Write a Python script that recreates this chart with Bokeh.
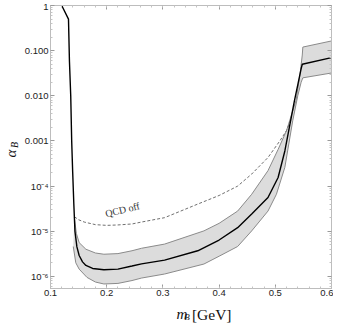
import numpy as np
from bokeh.plotting import figure
from bokeh.layouts import row, column
from bokeh.models import (Range1d, LogAxis, LinearAxis, FixedTicker,
                          CustomJSTickFormatter, Label)
from bokeh.embed import file_html
from bokeh.resources import INLINE

# ---- data ----
central_m = [0.120, 0.132, 0.1337, 0.136, 0.1377, 0.1395, 0.1415, 0.1435, 0.147, 0.151,
             0.157, 0.163, 0.175, 0.195, 0.220, 0.245, 0.262, 0.303, 0.362, 0.400,
             0.433, 0.458, 0.487, 0.505, 0.517, 0.525, 0.534, 0.541, 0.546, 0.548, 0.600]
central_alpha = [1.0, 0.50, 0.059, 0.010, 0.001, 2.0e-4, 4.0e-5, 1.0e-5, 4.5e-6, 2.9e-6,
                 2.1e-6, 1.75e-6, 1.5e-6, 1.4e-6, 1.45e-6, 1.7e-6, 1.9e-6, 2.3e-6, 3.7e-6, 6.4e-6,
                 1.2e-5, 2.4e-5, 5.6e-5, 1.55e-4, 6.0e-4, 2.0e-3, 7.7e-3, 0.02, 0.04, 0.05, 0.07]

upper_m = [0.1425, 0.146, 0.151, 0.163, 0.180, 0.195, 0.220, 0.245, 0.262, 0.303,
           0.373, 0.400, 0.433, 0.458, 0.487, 0.505, 0.520, 0.537, 0.544, 0.548, 0.549, 0.600]
upper_alpha = [2.0e-5, 9.0e-6, 5.6e-6, 4.0e-6, 3.3e-6, 3.1e-6, 3.2e-6, 3.7e-6, 4.2e-6, 5.2e-6,
               1.02e-5, 1.5e-5, 2.8e-5, 6.6e-5, 2.2e-4, 6.5e-4, 1.7e-3, 8.0e-3, 0.03, 0.08, 0.12, 0.164]

lower_m = [0.1405, 0.145, 0.151, 0.165, 0.180, 0.195, 0.220, 0.245, 0.262, 0.303,
           0.373, 0.400, 0.433, 0.458, 0.487, 0.502, 0.517, 0.531, 0.540, 0.546, 0.549, 0.600]
lower_alpha = [4.6e-6, 2.0e-6, 1.45e-6, 9.5e-7, 7.5e-7, 6.8e-7, 7.0e-7, 8.1e-7, 9.2e-7, 1.13e-6,
               1.88e-6, 2.8e-6, 4.6e-6, 1.02e-5, 2.8e-5, 6.6e-5, 2.6e-4, 2.8e-3, 1.0e-2, 0.02, 0.025, 0.032]

qcdoff_m = [0.1425, 0.150, 0.160, 0.180, 0.200, 0.220, 0.245, 0.262, 0.303, 0.362,
            0.400, 0.433, 0.458, 0.487, 0.508, 0.520, 0.528]
qcdoff_alpha = [2.1e-5, 1.8e-5, 1.6e-5, 1.4e-5, 1.35e-5, 1.38e-5, 1.45e-5, 1.6e-5, 2.0e-5, 4.0e-5,
                6.2e-5, 1.0e-4, 1.85e-4, 4.3e-4, 1.0e-3, 1.7e-3, 3.0e-3]

y_ticks = [1e-6, 1e-5, 1e-4, 1e-3, 1e-2, 1e-1, 1.0]
y_tick_labels = ["10\u207b\u2076", "10\u207b\u2075", "10\u207b\u2074", "0.001", "0.010", "0.100", "1"]
x_ticks = [0.1, 0.2, 0.3, 0.4, 0.5, 0.6]
x_tick_labels = ["0.1", "0.2", "0.3", "0.4", "0.5", "0.6"]

annotation_text = "QCD off"
x_label_parts = ["m", "B", "[GeV]"]
y_label_parts = ["\u03b1", "B"]

serif = "Liberation Serif"

# ---- layout sizes ----
LEFT_W = 21          # strip holding the y-axis title
MAIN_W = 312
MAIN_H = 304
BOTTOM_H = 20        # strip holding the x-axis title
TOTAL_H = MAIN_H + BOTTOM_H

# ---- main figure ----
p = figure(width=MAIN_W, height=MAIN_H, y_axis_type="log",
           x_range=Range1d(0.1, 0.6), y_range=Range1d(5.4e-7, 1.0),
           output_backend="svg", toolbar_location=None,
           min_border_left=26, min_border_right=2, min_border_top=5, min_border_bottom=16)
p.grid.visible = False
p.outline_line_color = "#bdbdbd"
p.background_fill_color = "white"
p.border_fill_color = "white"

y_minor = [k * 10.0 ** e for e in range(-7, 0) for k in range(2, 10)]
x_minor = [round(0.1 + 0.02 * i, 4) for i in range(26)]
yticker = FixedTicker(ticks=y_ticks, minor_ticks=y_minor)
xticker = FixedTicker(ticks=x_ticks, minor_ticks=x_minor)

yfmt = CustomJSTickFormatter(args=dict(vals=y_ticks, labs=y_tick_labels), code="""
for (let i = 0; i < vals.length; i++) {
  if (Math.abs(Math.log10(tick) - Math.log10(vals[i])) < 1e-6) return labs[i];
}
return '';
""")
xfmt = CustomJSTickFormatter(args=dict(vals=x_ticks, labs=x_tick_labels), code="""
for (let i = 0; i < vals.length; i++) {
  if (Math.abs(tick - vals[i]) < 1e-9) return labs[i];
}
return '';
""")
blank = CustomJSTickFormatter(code="return '';")

def style(ax):
    ax.axis_line_color = "#bdbdbd"
    ax.major_tick_line_color = "#9a9a9a"
    ax.minor_tick_line_color = "#c4c4c4"
    ax.major_tick_in = 4
    ax.major_tick_out = 0
    ax.minor_tick_in = 2
    ax.minor_tick_out = 0
    ax.major_label_text_font = "Liberation Sans"
    ax.major_label_text_font_size = "9.5px"
    ax.major_label_text_color = "#222222"

xa = p.xaxis[0]
xa.ticker = xticker
xa.formatter = xfmt
style(xa)
xa.major_label_standoff = 1

ya = p.yaxis[0]
ya.ticker = yticker
ya.formatter = yfmt
style(ya)
ya.major_label_standoff = 2

ra = LogAxis(ticker=yticker, formatter=blank)
style(ra)
ra.major_label_standoff = 0
ra.major_label_text_font_size = "0px"
p.add_layout(ra, "right")

ta = LinearAxis(ticker=xticker, formatter=blank)
style(ta)
ta.major_label_standoff = 0
ta.major_label_text_font_size = "0px"
p.add_layout(ta, "above")

# ---- band ----
band_x = list(upper_m) + list(reversed(lower_m))
band_y = list(upper_alpha) + list(reversed(lower_alpha))
p.patch(band_x, band_y, fill_color="#dcdcdc", line_color=None)
p.line(upper_m, upper_alpha, line_color="#8a8a8a", line_width=1)
p.line(lower_m, lower_alpha, line_color="#8a8a8a", line_width=1)

# ---- QCD off dashed ----
p.line(qcdoff_m, qcdoff_alpha, line_color="#707070", line_width=1, line_dash="3 2")

# ---- central line ----
p.line(central_m, central_alpha, line_color="black", line_width=1.4)

# ---- annotation ----
p.add_layout(Label(x=0.228, y=3.0e-5, text=annotation_text, angle=0.245,
                   text_align="center", text_baseline="middle",
                   text_font=serif, text_font_size="10px", text_color="#333333"))

# ---- strips for axis titles (pixel-space figures) ----
def strip(w, h):
    f = figure(width=w, height=h, x_range=Range1d(0, w), y_range=Range1d(0, h),
               output_backend="svg", toolbar_location=None,
               x_axis_location=None, y_axis_location=None,
               min_border=0, outline_line_color=None)
    f.grid.visible = False
    f.background_fill_color = "white"
    f.border_fill_color = "white"
    return f

def tlabel(x, y, text, size, italic=True, angle=0.0, align="left", baseline="alphabetic"):
    return Label(x=x, y=y, text=text, angle=angle,
                 text_font=serif, text_font_style="italic" if italic else "normal",
                 text_font_size=size, text_align=align, text_baseline=baseline,
                 text_color="#111111")

# x title: m_B [GeV]
xs = strip(MAIN_W, BOTTOM_H)
xs.add_layout(tlabel(140, 10.5, x_label_parts[0], "15px"))
xs.add_layout(tlabel(148.5, 8, x_label_parts[1], "9px"))
xs.add_layout(tlabel(157, 10.5, x_label_parts[2], "15.5px", italic=False))

# y title: alpha_B (rotated, reading upwards), centred on glyph positions
ys = strip(LEFT_W, TOTAL_H)
ys.add_layout(tlabel(10.5, TOTAL_H - 153, y_label_parts[0], "15px", angle=np.pi / 2,
                     align="center", baseline="middle"))
ys.add_layout(tlabel(14, TOTAL_H - 144.5, y_label_parts[1], "10px", angle=np.pi / 2,
                     align="center", baseline="middle"))

layout = row(ys, column(p, xs, spacing=0), spacing=0)

open("out.html", "w").write(file_html(layout, INLINE))
